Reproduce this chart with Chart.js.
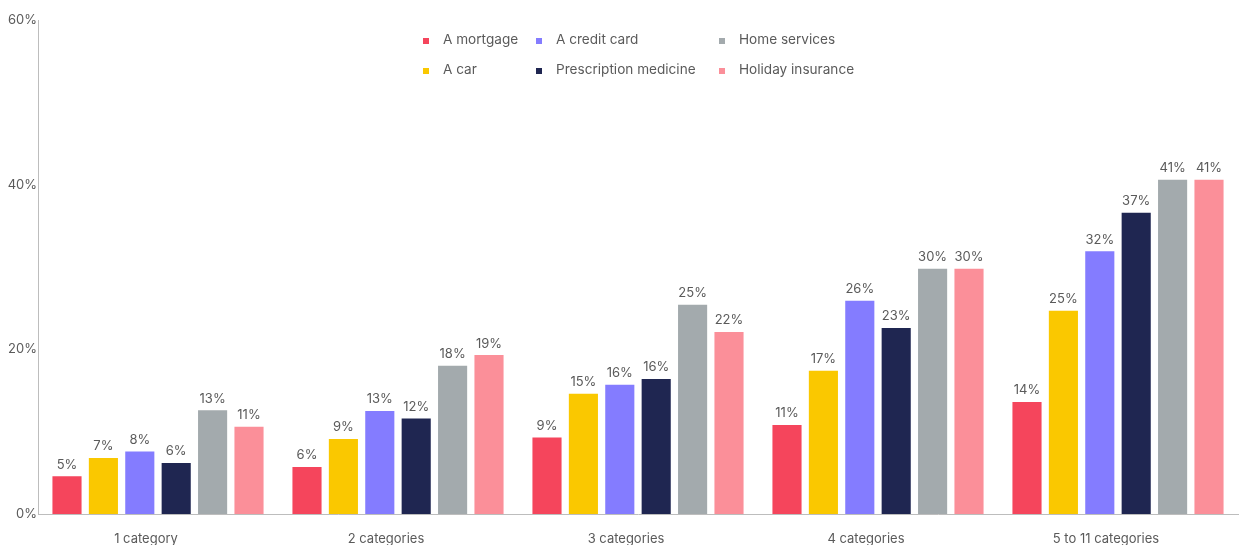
<!DOCTYPE html>
<html>
<head>
<meta charset="utf-8">
<script src="https://cdn.jsdelivr.net/npm/chart.js@4"></script>
<style>
  html, body { margin: 0; padding: 0; background: #fff; }
  #wrap { position: relative; width: 1239px; height: 545px; overflow: hidden; }
  #legend { position: absolute; left: 423px; top: 24px; font-family: Inter, "Open Sans", sans-serif; font-size: 13.6px; color: #5a5a5a;
            display: grid; grid-template-columns: 113px 183px 150px; grid-auto-flow: column; grid-template-rows: 30px 30px; }
  #legend span.item { display: flex; align-items: center; white-space: nowrap; }
  #legend i { display: inline-block; width: 6px; height: 6px; margin-right: 14px; margin-top: 3px; }
</style>
</head>
<body>
<div id="wrap">
  <canvas id="barChart" width="1239" height="545"></canvas>
  <div id="legend"></div>
</div>
<script>
var categories = ['1 category', '2 categories', '3 categories', '4 categories', '5 to 11 categories'];

var mortgage     = [4.6, 5.7, 9.3, 10.8, 13.6];
var car          = [6.8, 9.1, 14.6, 17.4, 24.7];
var creditCard   = [7.6, 12.5, 15.7, 25.9, 31.9];
var prescription = [6.2, 11.6, 16.4, 22.6, 36.6];
var homeServices = [12.6, 18.0, 25.4, 29.8, 40.6];
var holiday      = [10.6, 19.3, 22.1, 29.8, 40.6];

var yTicks = [0, 20, 40, 60];

var series = [
  { label: 'A mortgage', data: mortgage, color: '#F5455C' },
  { label: 'A car', data: car, color: '#FAC800' },
  { label: 'A credit card', data: creditCard, color: '#847CFF' },
  { label: 'Prescription medicine', data: prescription, color: '#1F2651' },
  { label: 'Home services', data: homeServices, color: '#A3AAAD' },
  { label: 'Holiday insurance', data: holiday, color: '#FB8F99' }
];

var textColor = '#5a5a5a';
var fontFamily = 'Inter, "Open Sans", sans-serif';

// percentage label above every bar
var valueLabels = {
  id: 'valueLabels',
  afterDatasetsDraw: function(chart) {
    var ctx = chart.ctx;
    ctx.save();
    ctx.font = '13px ' + fontFamily;
    ctx.fillStyle = textColor;
    ctx.textAlign = 'center';
    ctx.textBaseline = 'bottom';
    chart.data.datasets.forEach(function(ds, i) {
      chart.getDatasetMeta(i).data.forEach(function(bar, j) {
        ctx.fillText(Math.round(ds.data[j]) + '%', bar.x, bar.y - 5);
      });
    });
    ctx.restore();
  }
};

var ctx = document.getElementById('barChart').getContext('2d');
var chart = new Chart(ctx, {
  type: 'bar',
  data: {
    labels: categories,
    datasets: series.map(function(s) {
      return {
        label: s.label,
        data: s.data,
        backgroundColor: s.color,
        borderWidth: 0,
        categoryPercentage: 0.91,
        barPercentage: 0.8
      };
    })
  },
  options: {
    responsive: false,
    animation: false,
    layout: { padding: { top: 20, right: 1, left: 0, bottom: 0 } },
    plugins: {
      legend: { display: false },
      tooltip: { enabled: false }
    },
    scales: {
      x: {
        grid: { display: false, drawTicks: false },
        border: { color: '#bdbdbd' },
        ticks: { color: textColor, font: { family: fontFamily, size: 13 }, padding: 17, labelOffset: -12 },
        afterFit: function(s) { s.height = 31; }
      },
      y: {
        min: 0,
        max: 60,
        afterBuildTicks: function(s) { s.ticks = yTicks.map(function(v) { return { value: v }; }); },
        grid: { display: false, drawTicks: false },
        border: { color: '#bdbdbd' },
        ticks: {
          color: textColor,
          font: { family: fontFamily, size: 13 },
          padding: 1,
          callback: function(v) { return v + '%'; }
        },
        afterFit: function(s) { s.width = 38; }
      }
    }
  },
  plugins: [valueLabels]
});

// legend in three columns
var legend = document.getElementById('legend');
series.forEach(function(s) {
  var item = document.createElement('span');
  item.className = 'item';
  item.innerHTML = '<i style="background:' + s.color + '"></i>' + s.label;
  legend.appendChild(item);
});
</script>
</body>
</html>
